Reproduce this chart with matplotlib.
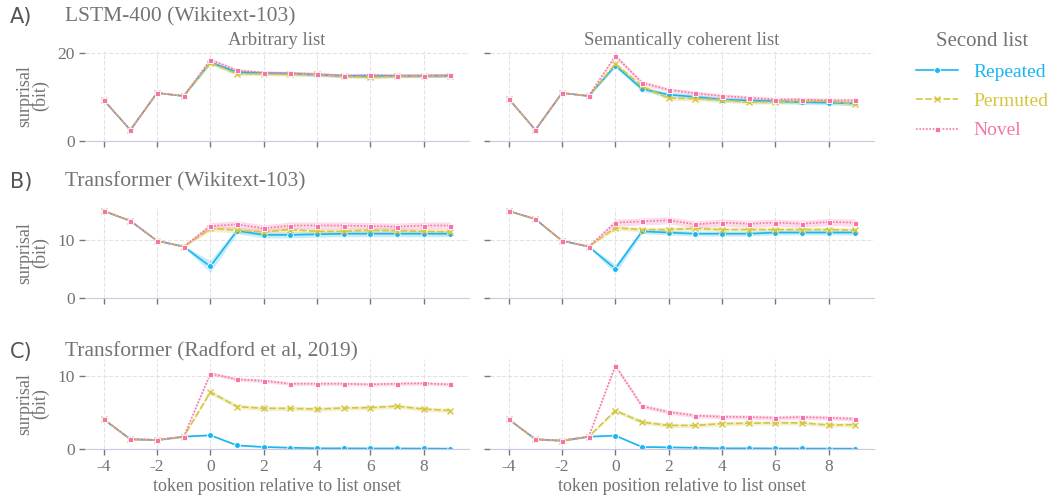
import matplotlib
matplotlib.use("Agg")
import matplotlib.pyplot as plt
from matplotlib.lines import Line2D
import numpy as np

plt.rcParams['font.family'] = ['Liberation Serif', 'DejaVu Serif']
plt.rcParams['axes.unicode_minus'] = False

positions = np.arange(-4, 10)

series_names = ['Repeated', 'Permuted', 'Novel']
series_colors = ['#19b6f2', '#d4c641', '#f774aa']
series_dashes = [(None, None), (4, 1.5), (1, 1)]
series_markers = ['o', 'x', 's']

panel_letters = ['A)', 'B)', 'C)']
model_titles = ['LSTM-400 (Wikitext-103)', 'Transformer (Wikitext-103)', 'Transformer (Radford et al, 2019)']
list_titles = ['Arbitrary list', 'Semantically coherent list']
row_ylims = [20.4, 15.4, 12.4]
row_yticks = [[0, 20], [0, 10], [0, 10]]

# LSTM-400, arbitrary list
lstm_arb_rep = [9.3, 2.5, 10.9, 10.2, 17.8, 15.6, 15.4, 15.3, 15.0, 14.8, 14.7, 14.8, 14.8, 14.8]
lstm_arb_perm = [9.3, 2.5, 10.9, 10.2, 17.7, 15.2, 15.2, 15.1, 15.1, 14.7, 14.4, 14.7, 14.8, 14.8]
lstm_arb_nov = [9.3, 2.5, 10.9, 10.2, 18.4, 16.0, 15.5, 15.4, 15.2, 14.8, 15.0, 14.8, 14.8, 14.9]
# LSTM-400, semantically coherent list
lstm_sem_rep = [9.6, 2.5, 10.9, 10.2, 17.1, 11.8, 10.5, 10.0, 9.4, 9.2, 9.0, 8.8, 8.7, 8.5]
lstm_sem_perm = [9.6, 2.5, 10.9, 10.2, 17.5, 12.4, 9.7, 9.6, 9.3, 8.8, 8.9, 9.0, 9.0, 8.4]
lstm_sem_nov = [9.6, 2.5, 10.9, 10.2, 19.3, 13.2, 11.6, 10.8, 10.2, 9.8, 9.4, 9.4, 9.2, 9.2]

# Transformer (Wikitext-103), arbitrary list
wt_arb_rep = [14.9, 13.2, 9.8, 8.8, 5.4, 11.5, 10.8, 10.8, 10.9, 11.0, 11.0, 11.0, 11.0, 11.0]
wt_arb_perm = [14.9, 13.2, 9.8, 8.8, 11.9, 11.6, 11.3, 11.7, 11.4, 11.4, 11.6, 11.5, 11.4, 11.3]
wt_arb_nov = [14.9, 13.2, 9.8, 8.8, 12.3, 12.6, 11.9, 12.4, 12.4, 12.4, 12.3, 12.2, 12.4, 12.4]
# Transformer (Wikitext-103), semantically coherent list
wt_sem_rep = [14.9, 13.5, 9.8, 8.8, 5.0, 11.4, 11.2, 11.0, 11.0, 11.0, 11.2, 11.2, 11.2, 11.2]
wt_sem_perm = [14.9, 13.5, 9.8, 8.8, 12.0, 11.7, 11.7, 11.9, 11.7, 11.7, 11.7, 11.7, 11.7, 11.6]
wt_sem_nov = [14.9, 13.5, 9.8, 8.8, 12.9, 13.1, 13.3, 12.6, 12.9, 12.7, 12.9, 12.7, 13.0, 12.9]

# Transformer (Radford et al, 2019), arbitrary list
gpt_arb_rep = [4.1, 1.35, 1.25, 1.7, 1.9, 0.5, 0.28, 0.18, 0.1, 0.1, 0.08, 0.08, 0.07, 0.05]
gpt_arb_perm = [4.1, 1.35, 1.25, 1.7, 7.85, 5.85, 5.6, 5.6, 5.5, 5.65, 5.7, 5.9, 5.5, 5.3]
gpt_arb_nov = [4.1, 1.35, 1.25, 1.7, 10.4, 9.6, 9.4, 9.0, 9.0, 9.0, 8.9, 9.0, 9.05, 8.9]
# Transformer (Radford et al, 2019), semantically coherent list
gpt_sem_rep = [4.1, 1.35, 1.15, 1.7, 1.85, 0.28, 0.23, 0.18, 0.1, 0.1, 0.08, 0.07, 0.06, 0.05]
gpt_sem_perm = [4.1, 1.35, 1.15, 1.7, 5.3, 3.7, 3.25, 3.25, 3.5, 3.55, 3.6, 3.6, 3.3, 3.35]
gpt_sem_nov = [4.1, 1.35, 1.15, 1.7, 11.5, 5.9, 5.1, 4.6, 4.45, 4.4, 4.3, 4.4, 4.3, 4.15]

# half widths of the shaded bands after list onset
lstm_arb_ci = [0.4, 0.4, 0.4]
lstm_sem_ci = [0.5, 0.5, 0.5]
wt_arb_ci = [[0.1, 0.1, 0.1, 0.1, 1.0, 0.5, 0.5, 0.5, 0.5, 0.5, 0.5, 0.5, 0.5, 0.5], 0.5, 0.6]
wt_sem_ci = [[0.1, 0.1, 0.1, 0.1, 0.8, 0.4, 0.4, 0.4, 0.4, 0.4, 0.4, 0.4, 0.4, 0.4], 0.4, 0.6]
gpt_arb_ci = [0.1, 0.3, 0.25]
gpt_sem_ci = [0.1, 0.3, 0.3]

panels = [
    [[lstm_arb_rep, lstm_arb_perm, lstm_arb_nov], [lstm_sem_rep, lstm_sem_perm, lstm_sem_nov]],
    [[wt_arb_rep, wt_arb_perm, wt_arb_nov], [wt_sem_rep, wt_sem_perm, wt_sem_nov]],
    [[gpt_arb_rep, gpt_arb_perm, gpt_arb_nov], [gpt_sem_rep, gpt_sem_perm, gpt_sem_nov]],
]
panel_cis = [[lstm_arb_ci, lstm_sem_ci], [wt_arb_ci, wt_sem_ci], [gpt_arb_ci, gpt_sem_ci]]


def line_style(s):
    kw = dict(color=series_colors[s], lw=1.2, marker=series_markers[s])
    if s == 0:
        kw.update(ls='-', ms=4.2, mew=0.6, mec='white')
    elif s == 1:
        kw.update(ls='--', dashes=series_dashes[s], ms=3.8, mew=1.0, mec=series_colors[s])
    else:
        kw.update(ls=':', dashes=series_dashes[s], ms=3.6, mew=0.6, mec='white')
    return kw


W, H = 1052, 498
fig = plt.figure(figsize=(W / 100, H / 100), dpi=100)

text_color = '#737373'
col_left = [85, 490]
col_width = 384
row_bottom = [141, 298, 449]
row_height = 90

for r in range(3):
    for c in range(2):
        ax = fig.add_axes([col_left[c] / W, 1 - row_bottom[r] / H, col_width / W, row_height / H])
        for s in range(3):
            y = np.array(panels[r][c][s])
            ci = panel_cis[r][c][s]
            hw = np.array(ci) if isinstance(ci, list) else np.where(positions < 0, 0.1, ci)
            ax.fill_between(positions, y - hw, y + hw, color=series_colors[s], alpha=0.25, lw=0)
            ax.plot(positions, y, **line_style(s))
        ax.set_xlim(-4.7, 9.7)
        ax.set_ylim(0, row_ylims[r])
        ax.set_xticks([-4, -2, 0, 2, 4, 6, 8])
        ax.set_yticks(row_yticks[r])
        ax.grid(True, ls='--', color='#e3e3e3', lw=0.8)
        ax.set_axisbelow(True)
        for side in ['top', 'right', 'left']:
            ax.spines[side].set_visible(False)
        ax.spines['bottom'].set_color('#cdc8df')
        ax.tick_params(axis='both', colors='#777777', labelcolor=text_color, labelsize=12.5, length=4, width=1)
        if c == 1:
            ax.tick_params(axis='y', labelleft=False)
        else:
            ax.set_ylabel('surprisal\n(bit)', fontsize=13, color=text_color, linespacing=0.9, labelpad=6)
        if r < 2:
            ax.tick_params(axis='x', labelbottom=False)
        else:
            ax.set_xlabel('token position relative to list onset', fontsize=13, color=text_color, labelpad=2)
        if r == 0:
            ax.set_title(list_titles[c], fontsize=13.5, color=text_color, pad=4)

title_y = [17, 182, 352]
for r in range(3):
    fig.text(10 / W, 1 - title_y[r] / H, panel_letters[r], fontsize=15, color='#555555',
             family='DejaVu Sans', va='center', ha='left')
    fig.text(65 / W, 1 - title_y[r] / H, model_titles[r], fontsize=15.5, color=text_color,
             va='center', ha='left')

handles = [Line2D([], [], **line_style(s)) for s in range(3)]
leg = fig.legend(handles, series_names, loc='upper left', bbox_to_anchor=(898 / W, 1 - 15 / H),
                 frameon=False, fontsize=14, title='Second list', title_fontsize=15,
                 handlelength=2.2, handletextpad=0.8, labelspacing=0.6)
leg.get_title().set_color(text_color)
for t, col in zip(leg.get_texts(), series_colors):
    t.set_color(col)

fig.savefig('out.png', dpi=100)
